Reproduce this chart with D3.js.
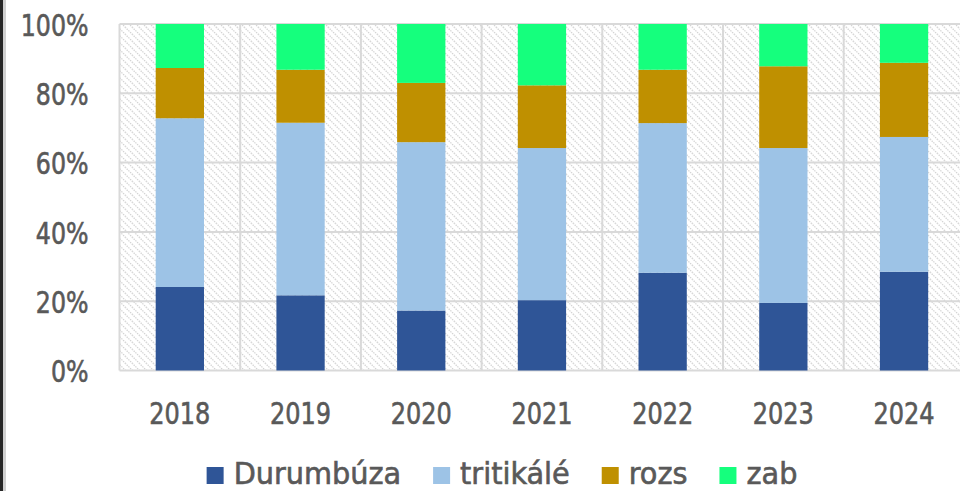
<!DOCTYPE html>
<html>
<head>
<meta charset="utf-8">
<script src="https://cdn.jsdelivr.net/npm/d3@7"></script>
<style>
  body { margin: 0; background: #fff; overflow: hidden; }
  text { font-family: 'Liberation Sans Narrow', 'DejaVu Sans Condensed', 'Roboto', sans-serif; fill: #595959; stroke: #595959; stroke-width: 0.6px; }
</style>
</head>
<body>
<script>
const years = ['2018', '2019', '2020', '2021', '2022', '2023', '2024'];
const seriesNames = ['Durumbúza', 'tritikálé', 'rozs', 'zab'];
// shares in percent
const durum = [24.1, 21.7, 17.3, 20.3, 28.2, 19.5, 28.5];
const tritikale = [48.7, 49.8, 48.6, 43.9, 43.2, 44.7, 38.9];
const rozs = [14.5, 15.3, 17.1, 18.1, 15.4, 23.6, 21.4];
const zab = [12.7, 13.2, 17.0, 17.7, 13.2, 12.2, 11.2];
const yTicks = [0, 0.2, 0.4, 0.6, 0.8, 1];

const colors = ['#2f5597', '#9dc3e6', '#bf9000', '#15ff7d'];

const width = 960;
const height = 491;
const plotLeft = 119.5;
const plotTop = 24;
const plotBottom = 370.5;
const plotRight = plotLeft + 7 * 120.7;

const svg = d3.select('body').append('svg')
  .attr('width', width)
  .attr('height', height);

// squeeze text horizontally, the original font is a narrow one
function squeeze(sel, k) {
  sel.each(function() {
    const w = this.getComputedTextLength();
    d3.select(this).attr('textLength', w * k).attr('lengthAdjust', 'spacingAndGlyphs');
  });
}

// hatch pattern for plot background
const defs = svg.append('defs');
const pat = defs.append('pattern')
  .attr('id', 'hatch')
  .attr('patternUnits', 'userSpaceOnUse')
  .attr('width', 7)
  .attr('height', 7);
pat.append('rect').attr('width', 7).attr('height', 7).attr('fill', '#fff');
pat.append('path')
  .attr('d', 'M-1,-1 L8,8 M-1,6 L1,8 M6,-1 L8,1')
  .attr('stroke', '#d4d4d4')
  .attr('stroke-width', 1.3)
  .attr('stroke-dasharray', '1.4,1');

// left dark edge
svg.append('rect').attr('x', 0).attr('y', 0).attr('width', 3).attr('height', height).attr('fill', '#262626');
svg.append('rect').attr('x', 3).attr('y', 0).attr('width', 3).attr('height', height).attr('fill', '#d0d0d0');

const rows = years.map((year, i) => ({
  year,
  'Durumbúza': durum[i] / 100,
  'tritikálé': tritikale[i] / 100,
  'rozs': rozs[i] / 100,
  'zab': zab[i] / 100,
}));

const stack = d3.stack().keys(seriesNames);
const stacked = stack(rows);

const x = d3.scaleBand()
  .domain(years)
  .range([plotLeft, plotRight])
  .paddingInner(0.6)
  .paddingOuter(0.3);

const y = d3.scaleLinear()
  .domain([0, 1])
  .range([plotBottom, plotTop]);

const color = d3.scaleOrdinal().domain(seriesNames).range(colors);

svg.append('rect')
  .attr('x', plotLeft)
  .attr('y', plotTop)
  .attr('width', plotRight - plotLeft)
  .attr('height', plotBottom - plotTop)
  .attr('fill', 'url(#hatch)');

// horizontal gridlines
svg.append('g')
  .selectAll('line')
  .data(yTicks)
  .join('line')
  .attr('x1', plotLeft)
  .attr('x2', plotRight)
  .attr('y1', (d) => y(d))
  .attr('y2', (d) => y(d))
  .attr('stroke', '#d9d9d9')
  .attr('stroke-width', 2);

// vertical gridlines between categories
const gap = (x.step() - x.bandwidth()) / 2;
svg.append('g')
  .selectAll('line')
  .data(years)
  .join('line')
  .attr('x1', (d) => x(d) + x.bandwidth() + gap)
  .attr('x2', (d) => x(d) + x.bandwidth() + gap)
  .attr('y1', plotTop)
  .attr('y2', plotBottom)
  .attr('stroke', '#d9d9d9')
  .attr('stroke-width', 2);

svg.append('line')
  .attr('x1', plotLeft).attr('x2', plotLeft)
  .attr('y1', plotTop).attr('y2', plotBottom)
  .attr('stroke', '#d9d9d9')
  .attr('stroke-width', 2);

// bars
svg.append('g')
  .selectAll('g')
  .data(stacked)
  .join('g')
  .attr('fill', (d) => color(d.key))
  .selectAll('rect')
  .data((d) => d)
  .join('rect')
  .attr('x', (d) => x(d.data.year))
  .attr('y', (d) => y(d[1]))
  .attr('width', x.bandwidth())
  .attr('height', (d) => y(d[0]) - y(d[1]));

// y axis labels
const yAxis = svg.append('g')
  .attr('transform', `translate(${plotLeft - 31},0)`)
  .call(d3.axisLeft(y).tickValues(yTicks).tickFormat(d3.format('.0%')).tickSize(0).tickPadding(0));
yAxis.select('.domain').remove();
yAxis.selectAll('text')
  .style('font-size', '31px')
  .attr('fill', null)
  .attr('dy', '0.36em')
  .call(squeeze, 0.85);

// x axis labels
const xAxis = svg.append('g')
  .attr('transform', `translate(0,${plotBottom})`)
  .call(d3.axisBottom(x).tickSize(0).tickPadding(0));
xAxis.select('.domain').remove();
xAxis.selectAll('text')
  .style('font-size', '31px')
  .attr('fill', null)
  .attr('dy', null)
  .attr('y', 53)
  .call(squeeze, 0.86);

// legend
const legend = svg.append('g');
const items = legend.selectAll('g')
  .data(seriesNames)
  .join('g');
items.append('rect')
  .attr('y', 467)
  .attr('width', 17)
  .attr('height', 17)
  .attr('fill', (d) => color(d));
items.append('text')
  .attr('x', 27)
  .attr('y', 484)
  .style('font-size', '31px')
  .text((d) => d)
  .call(squeeze, 1.03);

let cursor = 0;
items.each(function() {
  const w = +d3.select(this).select('text').attr('textLength');
  d3.select(this).attr('transform', `translate(${cursor},0)`);
  cursor += 27 + w + 32;
});
const total = cursor - 32;
legend.attr('transform', `translate(${502 - total / 2},0)`);
</script>
</body>
</html>
